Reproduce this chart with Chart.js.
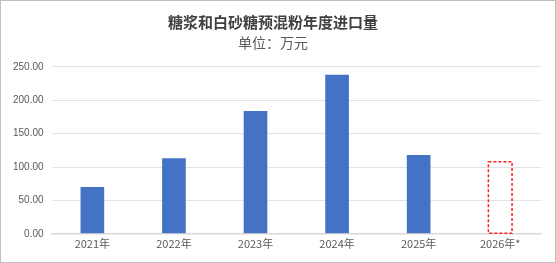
<!DOCTYPE html>
<html lang="zh">
<head>
  <meta charset="UTF-8">
  <title>糖浆和白砂糖预混粉年度进口量</title>
  <style>
    html, body {
      margin: 0;
      padding: 0;
      background: #ffffff;
    }
    .box {
      position: relative;
      width: 554px;
      height: 261px;
      border: 1px solid #bfbfbf;
    }
  </style>
</head>
<body>
  <div class="box">
    <canvas id="importChart"></canvas>
  </div>

  <script src="https://cdn.jsdelivr.net/npm/chart.js"></script>
  <script>
    // 年份与进口量（万元），2026年为预估
    const years = ['2021年', '2022年', '2023年', '2024年', '2025年', '2026年*'];
    const amounts = [70, 113, 184, 238, 118, 108];
    const yTicks = [0, 50, 100, 150, 200, 250];
    const forecastIndex = 5;

    const barColors = amounts.map((v, i) => i === forecastIndex ? 'rgba(0,0,0,0)' : '#4472c4');

    // 预估柱：红色虚线框
    const dashedBar = {
      id: 'dashedBar',
      afterDatasetsDraw(chart) {
        const bar = chart.getDatasetMeta(0).data[forecastIndex];
        if (!bar) return;
        const { x, y, base, width } = bar.getProps(['x', 'y', 'base', 'width'], true);
        const ctx = chart.ctx;
        ctx.save();
        ctx.strokeStyle = '#ff2020';
        ctx.lineWidth = 1.5;
        ctx.setLineDash([3, 2]);
        ctx.strokeRect(x - width / 2, y, width, base - y);
        ctx.restore();
      }
    };

    const ctx = document.getElementById('importChart').getContext('2d');
    new Chart(ctx, {
      type: 'bar',
      data: {
        labels: years,
        datasets: [{
          data: amounts,
          backgroundColor: barColors,
          borderWidth: 0,
          barPercentage: 0.58,
          categoryPercentage: 0.5
        }]
      },
      options: {
        responsive: true,
        maintainAspectRatio: false,
        animation: false,
        layout: {
          padding: { left: 4, right: 14, top: 6, bottom: 9 }
        },
        plugins: {
          legend: { display: false },
          tooltip: { enabled: false },
          title: {
            display: true,
            text: '糖浆和白砂糖预混粉年度进口量',
            color: '#404040',
            font: { family: '"Noto Sans CJK SC"', size: 15, weight: 'bold' },
            padding: { top: 6, bottom: 3 }
          },
          subtitle: {
            display: true,
            text: '单位：万元',
            color: '#595959',
            font: { family: '"Noto Sans CJK SC"', size: 14 },
            padding: { top: 0, bottom: 16 }
          }
        },
        scales: {
          x: {
            grid: { display: false, drawTicks: false },
            border: { display: true, color: '#d9d9d9', width: 1.5 },
            ticks: {
              color: '#595959',
              font: { family: '"Noto Sans CJK SC"', size: 11 },
              padding: 3,
              maxRotation: 0
            }
          },
          y: {
            min: 0,
            max: 250,
            afterBuildTicks(scale) {
              scale.ticks = yTicks.map(v => ({ value: v }));
            },
            grid: { color: '#e3e3e3', lineWidth: 1, drawTicks: false },
            border: { display: false },
            ticks: {
              color: '#595959',
              font: { family: 'Liberation Sans', size: 10 },
              padding: 8,
              callback: v => Number(v).toFixed(2)
            }
          }
        }
      },
      plugins: [dashedBar]
    });
  </script>
</body>
</html>
